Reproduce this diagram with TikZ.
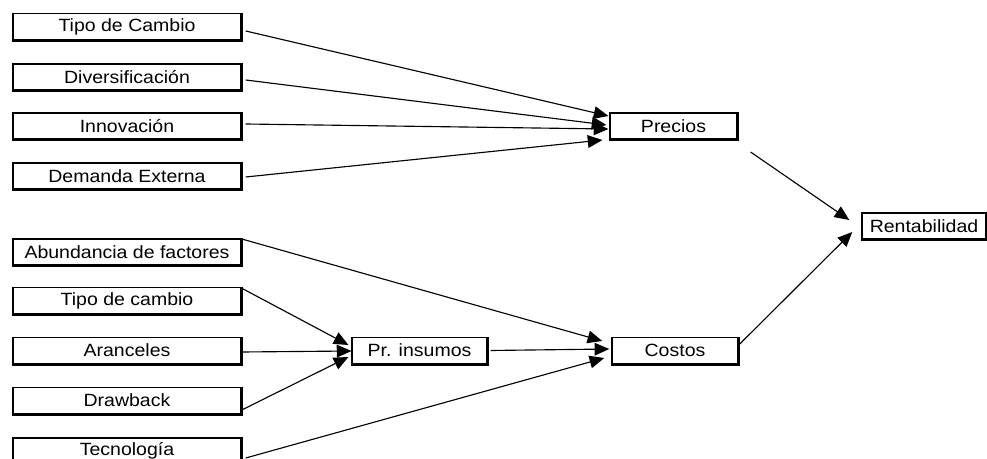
\documentclass[tikz,border=0pt]{standalone}
\usepackage{fontspec}
\setmainfont{Liberation Sans}[FakeStretch=1.1]
\usetikzlibrary{arrows.meta}

\tikzset{
  factor/.style={draw, line width=1.1pt, minimum height=19.5pt, inner sep=0pt,
    font=\fontsize{13.3}{15}\selectfont},
  link/.style={line width=0.85pt, -{Triangle[length=11pt,width=9.5pt]}}
}

\begin{document}
\begin{tikzpicture}[x=0.75pt,y=-0.75pt]
      \useasboundingbox (0,0) rectangle (987,459);
      % factores de precio
      \node[factor, minimum width=171pt] (tc) at (127,26.5) {Tipo de Cambio};
      \node[factor, minimum width=171pt] (div) at (127,77) {Diversificación};
      \node[factor, minimum width=171pt] (inn) at (127,126) {Innovación};
      \node[factor, minimum width=171pt] (dem) at (127,176) {Demanda Externa};
      % factores de costo
      \node[factor, minimum width=171pt] (abu) at (127,252) {Abundancia de factores};
      \node[factor, minimum width=171pt] (tcb) at (127,300.5) {Tipo de cambio};
      \node[factor, minimum width=171pt] (ara) at (127,350.5) {Aranceles};
      \node[factor, minimum width=171pt] (dra) at (127,400.5) {Drawback};
      \node[factor, minimum width=171pt] (tec) at (127,451) {Tecnología};
      % intermedios
      \node[factor, minimum width=101pt] (pins) at (419.5,350.5) {Pr. insumos};
      \node[factor, minimum width=95pt] (pre) at (673.5,126) {Precios};
      \node[factor, minimum width=94.5pt] (cos) at (675,350.5) {Costos};
      \node[factor, minimum width=93pt] (ren) at (924,226) {Rentabilidad};
      \foreach \n in {tc,div,inn,dem,abu,tcb,ara,dra,tec,pins,pre,cos,ren}
        \draw[line width=2.2pt] (\n.north east) -- (\n.south east) -- (\n.south west);
      % flechas
      \draw[link] ([shift={(4,4.5)}]tc.east) -- ([shift={(-1,-10)}]pre.west);
      \draw[link] ([shift={(4,3)}]div.east) -- ([shift={(-3,-1)}]pre.west);
      \draw[link] ([shift={(4,-2)}]inn.east) -- ([shift={(-1,3)}]pre.west);
      \draw[link] ([shift={(4,1)}]dem.east) -- ([shift={(-7,14)}]pre.west);
      \draw[link] ([shift={(1,1)}]abu.north east) -- ([shift={(-9,-9.5)}]cos.west);
      \draw[link] ([shift={(1,2)}]tcb.north east) -- ([shift={(-3,-5.5)}]pins.west);
      \draw[link] ([shift={(0,1.5)}]ara.east) -- ([shift={(0,0.5)}]pins.west);
      \draw[link] ([shift={(0,9.5)}]dra.east) -- ([shift={(-3,6.5)}]pins.west);
      \draw[link] ([shift={(4,7)}]tec.east) -- ([shift={(-7,7.5)}]cos.west);
      \draw[link] ([shift={(3,0)}]pins.east) -- ([shift={(-2,-1.5)}]cos.west);
      \draw[link] ([shift={(13,26)}]pre.east) -- ([shift={(-12,-6)}]ren.west);
      \draw[link] ([shift={(0,-5.5)}]cos.east) -- ([shift={(-9,6)}]ren.west);
    \end{tikzpicture}
\end{document}
